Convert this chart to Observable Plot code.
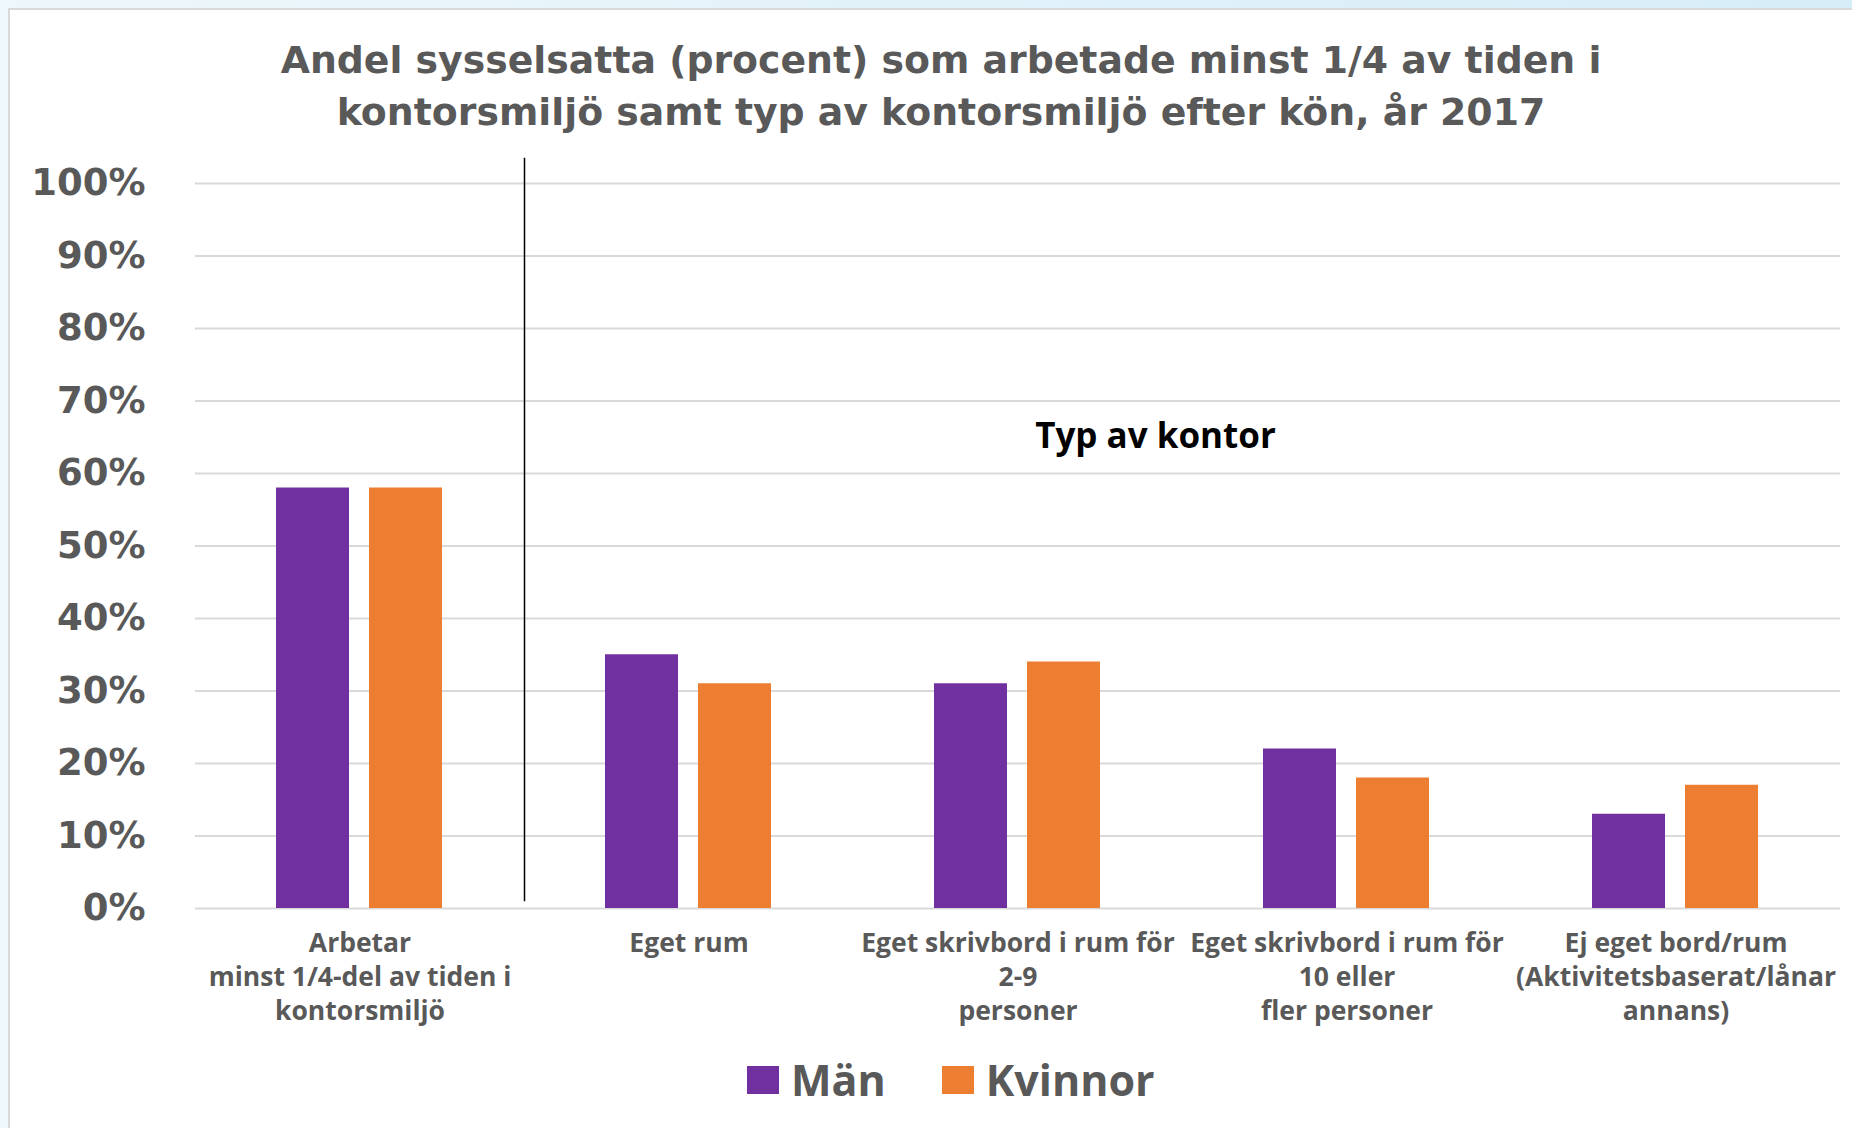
<!DOCTYPE html>
<html><head><meta charset="utf-8">
<script src="https://cdn.jsdelivr.net/npm/d3@7"></script>
<script src="https://cdn.jsdelivr.net/npm/@observablehq/plot@0.6"></script>
<style>
html,body{margin:0;padding:0;}
body{width:1852px;height:1128px;overflow:hidden;background:linear-gradient(to right,#eef7fb,#d6edf8);position:relative;}
#card{position:absolute;left:8px;top:8px;right:0;bottom:0;background:#fff;border-left:2px solid #d9d9d9;border-top:2px solid #d9d9d9;}
#title{font-family:"DejaVu Sans",sans-serif;font-weight:bold;font-size:37.8px;color:#595959;text-align:center;line-height:52px;padding-top:24px;padding-left:20px;height:104px;white-space:nowrap;}
#chart svg{display:block;}
#legend{display:flex;align-items:center;height:60px;margin-top:7px;padding-left:737px;font-family:"Open Sans",sans-serif;font-weight:bold;font-size:43px;color:#595959;}
.sw{width:32px;height:28px;display:inline-block;}
.lab{margin-left:12px;line-height:60px;}
</style>
</head><body>
<div id="card">
  <div id="title"></div>
  <div id="chart"></div>
  <div id="legend"></div>
</div>
<script>
const titleLines = ["Andel sysselsatta (procent) som arbetade minst 1/4 av tiden i", "kontorsmiljö samt typ av kontorsmiljö efter kön, år 2017"];
const categories = [
  "Arbetar\nminst 1/4-del av tiden i\nkontorsmiljö",
  "Eget rum",
  "Eget skrivbord i rum för\n2-9\npersoner",
  "Eget skrivbord i rum för\n10 eller\nfler personer",
  "Ej eget bord/rum\n(Aktivitetsbaserat/lånar\nannans)"
];
const series = ["Män", "Kvinnor"];
const menValues = [0.58, 0.35, 0.31, 0.22, 0.13];
const womenValues = [0.58, 0.31, 0.34, 0.18, 0.17];
const yTicks = [0, 0.1, 0.2, 0.3, 0.4, 0.5, 0.6, 0.7, 0.8, 0.9, 1.0];
const colors = ["#7030a0", "#ed7d31"];
const annotation = "Typ av kontor";
const annotationValue = 0.65;

document.getElementById("title").innerHTML = titleLines.join("<br>");

const data = categories.flatMap((c, i) => [
  {category: c, sex: series[0], value: menValues[i]},
  {category: c, sex: series[1], value: womenValues[i]}
]);

const chart = Plot.plot({
  width: 1842, height: 905,
  marginLeft: 185, marginRight: 12, marginTop: 20, marginBottom: 135,
  style: {background: "transparent"},
  fx: {domain: categories, padding: 0, label: null},
  x: {domain: series, paddingInner: 0.213, paddingOuter: 0.857, axis: null},
  y: {domain: [0, 1.0345]},
  color: {domain: series, range: colors},
  marks: [
    Plot.gridY(yTicks, {stroke: "#d9d9d9", strokeOpacity: 1, strokeWidth: 2}),
    Plot.axisY(yTicks, {tickFormat: d3.format(".0%"), tickSize: 0, tickPadding: 50, fontSize: 37, fontWeight: "bold", fontFamily: "DejaVu Sans", fill: "#595959", label: null}),
    Plot.axisFx({anchor: "bottom", tickSize: 0, tickPadding: 20, fontSize: 26.5, fontWeight: "bold", fontFamily: "Open Sans", fill: "#595959", lineHeight: 1.27, label: null}),
    Plot.barY(data, {fx: "category", x: "sex", y: "value", fill: "sex"}),
    Plot.frame({anchor: "left", fx: () => categories[1], stroke: "#000", strokeWidth: 1.5, insetBottom: 8}),
    Plot.text([annotation], {fx: () => categories[2], text: d => d, y: () => annotationValue, frameAnchor: "right", textAnchor: "middle", dx: -27, fontSize: 35, fontWeight: "bold", fontFamily: "Open Sans", fill: "#000"})
  ]
});
document.getElementById("chart").appendChild(chart);

const legend = document.getElementById("legend");
series.forEach((s, i) => {
  const sw = document.createElement("span");
  sw.className = "sw";
  sw.style.background = colors[i];
  if (i > 0) sw.style.marginLeft = "56px";
  const lab = document.createElement("span");
  lab.className = "lab";
  lab.textContent = s;
  legend.appendChild(sw);
  legend.appendChild(lab);
});
</script>
</body></html>
